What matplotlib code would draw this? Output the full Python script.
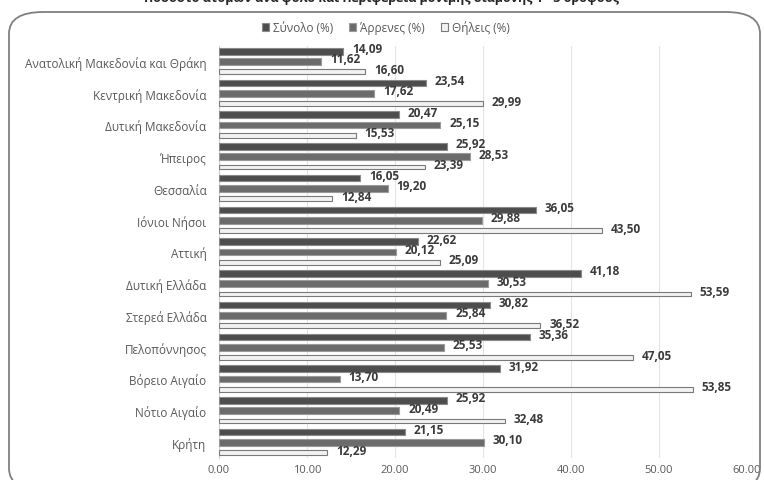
import matplotlib
matplotlib.use("Agg")
import numpy as np
import matplotlib.pyplot as plt
from matplotlib.patches import FancyBboxPatch

plt.rcParams["font.family"] = ["Open Sans", "DejaVu Sans"]

# data
regions = [
    "Ανατολική Μακεδονία και Θράκη", "Κεντρική Μακεδονία", "Δυτική Μακεδονία",
    "Ήπειρος", "Θεσσαλία", "Ιόνιοι Νήσοι", "Αττική", "Δυτική Ελλάδα",
    "Στερεά Ελλάδα", "Πελοπόννησος", "Βόρειο Αιγαίο", "Νότιο Αιγαίο", "Κρήτη",
]
total = [14.09, 23.54, 20.47, 25.92, 16.05, 36.05, 22.62, 41.18, 30.82, 35.36, 31.92, 25.92, 21.15]
male = [11.62, 17.62, 25.15, 28.53, 19.20, 29.88, 20.12, 30.53, 25.84, 25.53, 13.70, 20.49, 30.10]
female = [16.60, 29.99, 15.53, 23.39, 12.84, 43.50, 25.09, 53.59, 36.52, 47.05, 53.85, 32.48, 12.29]
series_names = ["Σύνολο (%)", "Άρρενες (%)", "Θήλεις (%)"]

fig = plt.figure(figsize=(7.64, 4.81), dpi=100)

# rounded chart frame (bottom runs past the picture edge)
frame = FancyBboxPatch((9 / 764, -10 / 481), 751 / 764, 478 / 481,
                       boxstyle="round,pad=0,rounding_size=0.045",
                       transform=fig.transFigure, fill=False,
                       edgecolor="#808080", linewidth=1.3, zorder=0)
fig.patches.append(frame)

# title, cropped by the top edge as in the source
fig.text(0.5, 1.003, "Ποσοστό ατόμων ανά φύλο και Περιφέρεια μόνιμης διαμονής 1 - 3 ορόφους",
         ha="center", va="center", fontsize=9, fontweight="bold", color="#262626")

ax = fig.add_axes([219 / 764, 0.045, 528 / 764, 0.858])

y = np.arange(len(regions))
off = 0.326
styles = [
    dict(color="#4d4d4d", edgecolor="#8a8a8a", height=0.21),
    dict(color="#6b6b6b", edgecolor="#9a9a9a", height=0.21),
    dict(color="#f2f2f2", edgecolor="#7a7a7a", height=0.15),
]
for i, (vals, name, st) in enumerate(zip([total, male, female], series_names, styles)):
    pos = y + (i - 1) * off
    ax.barh(pos, vals, height=st["height"], color=st["color"], edgecolor=st["edgecolor"],
            linewidth=0.8, label=name, zorder=3)
    for p, v in zip(pos, vals):
        ax.text(v + 1.0, p - 0.08, f"{v:.2f}".replace(".", ","), va="center", ha="left",
                fontsize=8.5, fontweight="bold", color="#3a3a3a", zorder=4)

ax.set_ylim(len(regions) - 0.5, -0.5)
ax.set_xlim(0, 60)
ax.set_xticks(np.arange(0, 61, 10))
ax.set_xticklabels([f"{t:.2f}" for t in np.arange(0, 61, 10)])
ax.set_yticks(y)
ax.set_yticklabels(regions)
ax.tick_params(axis="both", length=0, labelsize=8.5, labelcolor="#595959")
ax.tick_params(axis="x", pad=4, labelsize=8)
ax.tick_params(axis="y", pad=9)
ax.grid(axis="x", color="#e3e3e3", linewidth=0.8, zorder=0)
for s in ["top", "right", "bottom"]:
    ax.spines[s].set_visible(False)
ax.spines["left"].set_color("#d0d0d0")

fig.legend(loc="center", bbox_to_anchor=(0.505, 1 - 28 / 481), ncol=3, frameon=False,
           fontsize=8.5, labelcolor="#595959", handlelength=0.6, handleheight=0.6,
           handletextpad=0.3, columnspacing=1.4)

fig.savefig("out.png", dpi=100)
